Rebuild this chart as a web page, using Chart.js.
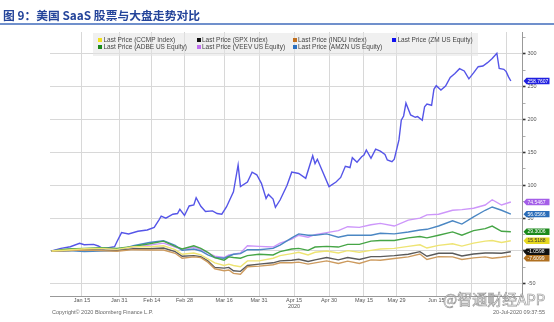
<!DOCTYPE html>
<html>
<head>
<meta charset="utf-8">
<script src="https://cdn.jsdelivr.net/npm/chart.js@4.4.0/dist/chart.umd.min.js"></script>
<style>
  body { margin: 0; background: #fff; }
  #wrap { position: relative; width: 554px; height: 322px; overflow: hidden; font-family: "Liberation Sans", Arial, sans-serif; }
  #c { position: absolute; left: 0; top: 0; }
  .title { position: absolute; left: 3px; top: 8px; font: bold 11.8px "Noto Sans CJK SC", sans-serif; color: #24449a; white-space: nowrap; line-height: 14px; }
  .rule { position: absolute; left: 0; top: 23px; width: 554px; height: 1.5px; background: #7090cc; }
  .legend { position: absolute; left: 93px; top: 33px; width: 385px; height: 23px; background: rgba(228,228,228,0.55); }
  .item { position: absolute; font-size: 6.5px; color: #444; white-space: nowrap; line-height: 7px; }
  .item i { display: inline-block; width: 4px; height: 4px; margin-right: 1.5px; }
  .foot { position: absolute; top: 309px; font-size: 5.5px; color: #666; white-space: nowrap; line-height: 6px; }
  .mark { position: absolute; left: 443px; top: 290px; font: 15px "Noto Sans CJK SC", sans-serif; color: rgba(255,255,255,0.75);
          -webkit-text-stroke: 0.7px rgba(120,120,120,0.75); white-space: nowrap; line-height: 17px; }
</style>
</head>
<body>
<div id="wrap">
  <canvas id="c" width="554" height="322"></canvas>
  <div class="title">图 9：美国 SaaS 股票与大盘走势对比</div>
  <div class="rule"></div>
  <div class="legend" id="legend"></div>
  <div class="foot" style="left:52px">Copyright© 2020 Bloomberg Finance L.P.</div>
  <div class="foot" style="right:9px">20-Jul-2020 09:37:55</div>
  <div class="mark">@智通财经APP</div>
</div>
<script>
// x ticks (calendar dates 2020)
var tickDates = ['1/15','1/31','2/14','2/28','3/16','3/31','4/15','4/30','5/15','5/29','6/15','6/30','7/15'];
var tickLabels = ['Jan 15','Jan 31','Feb 14','Feb 28','Mar 16','Mar 31',['Apr 15','2020'],'Apr 30','May 15','May 29','Jun 15','',''];

// ZM read at its turning points
var zmDates = ['1/2','1/6','1/10','1/14','1/16','1/20','1/22','1/24','1/29','1/30','2/1','2/4','2/8','2/12','2/15',
  '2/17','2/18','2/20','2/23','2/25','2/26','2/28','3/1','3/3','3/4','3/6','3/8','3/11','3/13','3/15',
  '3/17','3/20','3/22','3/23','3/26','3/28','3/30','4/1','4/3','4/4','4/6','4/7','4/9','4/12','4/14',
  '4/17','4/20','4/23','4/24','4/25','4/27','4/30','5/3','5/5','5/7','5/9','5/10','5/12','5/14','5/15',
  '5/16','5/18','5/20','5/22','5/24','5/25','5/27','5/28','5/30','5/31','6/1','6/2','6/4','6/6','6/7',
  '6/9','6/10','6/11','6/13','6/14','6/15','6/17','6/19','6/21','6/23','6/25','6/27','6/29','7/1','7/3',
  '7/5','7/7','7/9','7/11','7/12','7/14','7/15','7/16','7/17'];
var zmValues = [0,4,6.5,11.7,9.6,10,7.6,3.5,6.5,14,28,26,30,32,36,
  47,53,50,56,57,63.5,54,68.5,70,81,68,60,61,57,56,
  67,90,131,98,105,120,116,103,80,86,79,66.5,77.6,100,120,
  118,110.6,145,133,139.6,123,98,105,112,129,127,142,135,143.5,146,
  153.7,141,155,152,147,138.5,136,139.6,169,199,205.5,225,207,203.5,204.5,
  199,219.6,223.7,221.8,246,251.6,245,251,264,270,277.5,274,262,271,280.5,
  281.6,286.6,293,301,278,276.5,273,265,258.7607];

// the other six series, read on common dates
var dates = ['1/2','1/9','1/16','1/23','1/30','2/6','2/13','2/19','2/24','2/27','3/3','3/6','3/9','3/12','3/16',
  '3/18','3/20','3/23','3/26','3/31','4/6','4/9','4/14','4/17','4/21','4/24','4/29','5/4','5/8','5/13',
  '5/18','5/22','5/28','6/3','6/8','6/11','6/16','6/22','6/26','7/1','7/6','7/9','7/13','7/17'];
var amzn = [0,0.5,-1,0,0.5,8,13,15.5,8.5,1,3,0,-6,-10,-11,
  -8,-5,-4,2,2,4,9,20,26,24,24,26,21,24,24,
  24,27,26,29,32,33,38,46,41,52,62,67,62,56.0566];
var veev = [0,2,3,4,3,6,9,12,6,2,6,2,-3,-8,-10,
  -6,-5,-3,8,7,6,12,18,24,21,25,28,31,37,36,
  40,42,38,47,50,55,56,62,63,65,70,78,70,74.5467];
var adbe = [0,3,4,5,4,7,11,15,7,3,8,4,-2,-10,-14,
  -9,-10,-11,-7,-5,-6,-1,3,4,1,6,7,6,10,10,
  15,16,16,20,22,20,24,29,24,31,34,38,30,29.3006];
var ccmp = [0,1.5,3.5,4,2.5,6.5,6.5,8,2,-5,-3,-6,-12,-18,-22,
  -20,-22,-24,-15,-15,-11,-7,-4,-2,-6,-2,0,-3,0.5,-2,
  1,3,4,7,9.5,4.5,8.5,11,7.5,12,15,16,13,15.5188];
var spx = [0,0.5,2,1.5,0.5,3.5,3.5,4.5,-1,-8,-7,-8.5,-15,-25,-26,
  -25,-30,-31,-22,-20,-18,-15,-14,-12.5,-16,-13.5,-10,-13.5,-10,-13,
  -8.5,-8.5,-7,-5,-1,-8,-3.5,-3.5,-7.5,-4.5,-3,-3,-3.5,-1.0598];
var indu = [0,0.5,1.5,0.5,-0.5,2,1.5,1.5,-3.5,-11,-9,-10,-17,-27,-30,
  -29,-34,-35.5,-24,-23,-21,-18,-18,-17,-20,-18,-15,-19,-15.5,-19,
  -13.5,-14,-11.5,-9,-4.5,-13,-8.5,-9,-13,-10.5,-9,-11,-9.5,-7.6099];

const toDay = s => { const [m, d] = s.split('/').map(Number); return (Date.UTC(2020, m - 1, d) - Date.UTC(2020, 0, 1)) / 864e5; };
const pts = (ds, vs) => ds.map((d, i) => ({x: toDay(d), y: vs[i]}));

// legend order as in the picture (row 1 then row 2)
const legendItems = [
  ['Last Price (CCMP Index)', '#f0e020', 5, 3],
  ['Last Price (SPX Index)', '#111', 103.5, 3],
  ['Last Price (INDU Index)', '#c07020', 199.5, 3],
  ['Last Price (ZM US Equity)', '#1010f0', 299, 3],
  ['Last Price (ADBE US Equity)', '#1a8a1a', 5, 10],
  ['Last Price (VEEV US Equity)', '#c070f0', 103.5, 10],
  ['Last Price (AMZN US Equity)', '#2a70c0', 199.5, 10]
];
const lg = document.getElementById('legend');
legendItems.forEach(it => {
  const d = document.createElement('div');
  d.className = 'item';
  d.style.left = it[2] + 'px';
  d.style.top = it[3] + 'px';
  d.innerHTML = '<i style="background:' + it[1] + '"></i>' + it[0];
  lg.appendChild(d);
});

const line = (label, data, color, tag, tagText) => ({
  label: label, data: data, borderColor: color, borderWidth: 1.4,
  pointRadius: 0, tension: 0, fill: false, tagColor: tag, tagText: tagText || '#fff'
});

const endTags = {
  id: 'endTags',
  afterDraw(chart) {
    const ctx = chart.ctx, ys = chart.scales.y, x0 = chart.chartArea.right + 1;
    const tags = chart.data.datasets.map(ds => {
      const v = ds.data[ds.data.length - 1].y;
      return {y: ys.getPixelForValue(v), text: v.toFixed(4), bg: ds.tagColor, fg: ds.tagText};
    }).sort((a, b) => a.y - b.y);
    for (let i = 1; i < tags.length; i++) {
      if (tags[i].y < tags[i - 1].y + 6.5) tags[i].y = tags[i - 1].y + 6.5;
    }
    ctx.save();
    ctx.font = '5px "Liberation Sans"';
    ctx.textBaseline = 'middle';
    tags.forEach(t => {
      ctx.fillStyle = t.bg;
      ctx.beginPath();
      ctx.moveTo(x0, t.y);
      ctx.lineTo(x0 + 3, t.y - 3.2);
      ctx.lineTo(x0 + 26, t.y - 3.2);
      ctx.lineTo(x0 + 26, t.y + 3.2);
      ctx.lineTo(x0 + 3, t.y + 3.2);
      ctx.closePath();
      ctx.fill();
      ctx.fillStyle = t.fg;
      ctx.fillText(t.text, x0 + 4, t.y + 0.3);
    });
    ctx.restore();
  }
};

const axisFont = {size: 5.5, family: 'Liberation Sans'};

new Chart(document.getElementById('c').getContext('2d'), {
  type: 'line',
  data: {
    datasets: [
      line('Last Price (CCMP Index)', pts(dates, ccmp), 'rgb(238,228,115)', '#e6d820', '#333'),
      line('Last Price (INDU Index)', pts(dates, indu), 'rgb(205,155,95)', '#b07020'),
      line('Last Price (SPX Index)', pts(dates, spx), 'rgb(90,90,90)', '#111'),
      line('Last Price (ADBE US Equity)', pts(dates, adbe), 'rgb(70,165,70)', '#1c8a1c'),
      line('Last Price (AMZN US Equity)', pts(dates, amzn), 'rgb(75,135,195)', '#2a6cb8'),
      line('Last Price (VEEV US Equity)', pts(dates, veev), 'rgb(205,150,250)', '#a45ee8'),
      line('Last Price (ZM US Equity)', pts(zmDates, zmValues), 'rgb(85,85,232)', '#2020e0')
    ]
  },
  options: {
    responsive: false,
    animation: false,
    layout: {padding: {left: 50, top: 32, right: 0, bottom: 0}},
    plugins: {legend: {display: false}, tooltip: {enabled: false}},
    scales: {
      x: {
        type: 'linear', min: 0.3, max: 203,
        afterBuildTicks: s => { s.ticks = tickDates.map(d => ({value: toDay(d)})); },
        afterFit: s => { s.height = 26; },
        ticks: {autoSkip: false, maxRotation: 0, padding: 1, color: '#555', font: axisFont,
                callback: (v, i) => tickLabels[i]},
        grid: {color: '#d8d8d8', lineWidth: 1, drawTicks: false},
        border: {color: '#999'}
      },
      y: {
        position: 'right', min: -68.5, max: 333.3,
        afterBuildTicks: s => { s.ticks = []; for (let v = -50; v <= 325; v += 25) s.ticks.push({value: v}); },
        afterFit: s => { s.width = 31.5; },
        ticks: {padding: 2, color: '#555', font: axisFont,
                callback: v => (v % 50 === 0 ? String(v) : '')},
        grid: {
          color: c => (c.tick && c.tick.value % 50 === 0 ? '#d8d8d8' : 'rgba(0,0,0,0)'),
          tickLength: 3,
          tickColor: c => (c.tick && c.tick.value % 50 === 0 ? '#333' : '#999'),
          tickWidth: c => (c.tick && c.tick.value % 50 === 0 ? 1.6 : 0.8)
        },
        border: {color: '#999'}
      }
    }
  },
  plugins: [endTags]
});
</script>
</body>
</html>
